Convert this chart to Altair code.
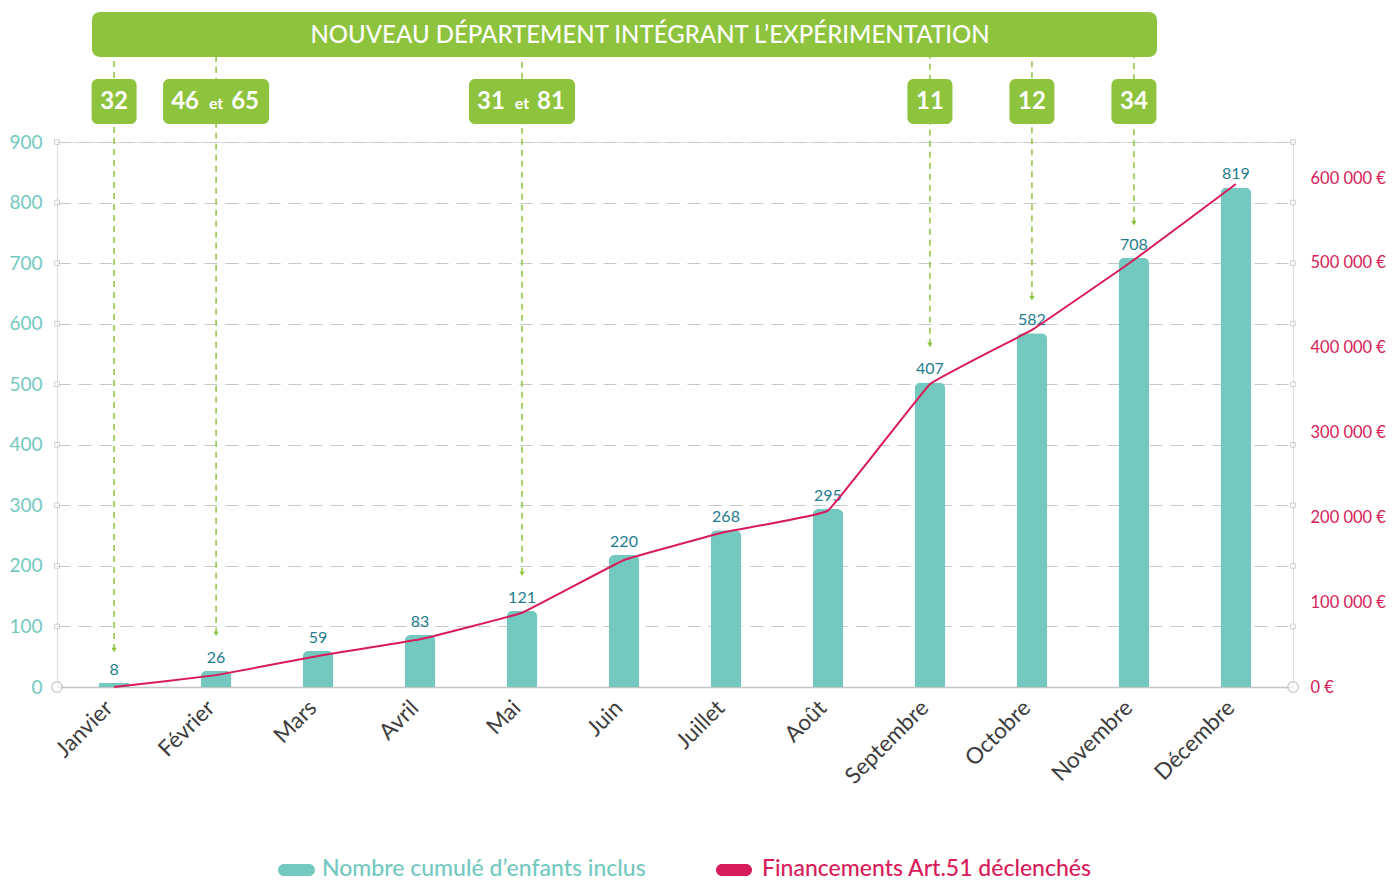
import altair as alt
import pandas as pd

# ---------------- data ----------------
months = ["Janvier", "Février", "Mars", "Avril", "Mai", "Juin", "Juillet",
          "Août", "Septembre", "Octobre", "Novembre", "Décembre"]
bar_heights = [7, 27, 60, 86, 126, 218, 259, 294, 503, 584, 709, 825]
bar_labels = ["8", "26", "59", "83", "121", "220", "268", "295", "407", "582", "708", "819"]
funding = [0, 14000, 36600, 56200, 87600, 149800, 183000, 208000, 357000, 421000, 503500, 593000]

ann_months = ["Janvier", "Février", "Mai", "Septembre", "Octobre", "Novembre"]
ann_tips = [61, 88, 187, 565, 642, 766]
ann_left = ["32", "46", "31", "11", "12", "34"]
ann_right = ["", "65", "81", "", "", ""]
ann_wide = [False, True, True, False, False, False]

left_ticks = [0, 100, 200, 300, 400, 500, 600, 700, 800, 900]
right_ticks = [0, 100000, 200000, 300000, 400000, 500000, 600000]

banner_text = "NOUVEAU DÉPARTEMENT INTÉGRANT L’EXPÉRIMENTATION"
legend_bar = "Nombre cumulé d’enfants inclus"
legend_line = "Financements Art.51 déclenchés"

# ---------------- styles ----------------
FONT = "Lato"
TEAL = "#73C9BF"
TEAL_TXT = "#1F7C8E"
CRIMSON = "#D81B5A"
GREEN = "#8DC33D"
GRID = "#c8c8c8"
W, H = 1236, 545

df = pd.DataFrame({"month": months, "h": bar_heights, "lab": bar_labels, "fund": funding})
ann = pd.DataFrame({"month": ann_months, "tip": ann_tips, "l": ann_left, "r": ann_right, "wide": ann_wide})
ticks_df = pd.DataFrame({"v": left_ticks[1:]})
one = pd.DataFrame({"k": [0]})

X = alt.X("month:N", sort=months, title=None,
          scale=alt.Scale(paddingInner=0.7, paddingOuter=0.41),
          axis=alt.Axis(labelAngle=-45, labelAlign="right", labelBaseline="middle",
                        labelPadding=17, labelOffset=-5, labelFontSize=22.5, labelColor="#3d3d3d",
                        labelFont=FONT, ticks=False, domain=True,
                        domainColor="#c4c4c4", domainWidth=1.5, grid=False))

left_axis = alt.Axis(values=left_ticks, grid=True, gridDash=[13, 8], gridColor=GRID,
                     gridWidth=1.2, ticks=False, domain=False, labelPadding=15,
                     labelFontSize=19, labelColor=TEAL, labelFont=FONT, title=None)


def YL(field):
    return alt.Y(field, type="quantitative", scale=alt.Scale(domain=[0, 900], nice=False),
                 axis=left_axis, title=None)


base = alt.Chart(df)

bars = base.mark_bar(color=TEAL, cornerRadiusTopLeft=6, cornerRadiusTopRight=6).encode(
    x=X, y=YL("h"))

labels = base.mark_text(font=FONT, fontSize=16, color=TEAL_TXT, baseline="bottom", dy=-5).encode(
    x=X, y=YL("h"), text="lab:N")

sq_left = alt.Chart(ticks_df).mark_point(shape="square", size=22, filled=True, fill="white",
                                         stroke="#bdbdbd", strokeWidth=1).encode(
    x=alt.value(0), y=YL("v"))
sq_right = alt.Chart(ticks_df).mark_point(shape="square", size=22, filled=True, fill="white",
                                          stroke="#bdbdbd", strokeWidth=1).encode(
    x=alt.value(W), y=YL("v"))

circles = alt.layer(
    alt.Chart(one).mark_point(shape="circle", size=110, filled=True, fill="white",
                              stroke="#bdbdbd", strokeWidth=1.5).encode(
        x=alt.value(0), y=alt.value(H)),
    alt.Chart(one).mark_point(shape="circle", size=110, filled=True, fill="white",
                              stroke="#bdbdbd", strokeWidth=1.5).encode(
        x=alt.value(W), y=alt.value(H)),
)

annb = alt.Chart(ann)
arrows = annb.mark_rule(color=GREEN, strokeDash=[6, 5], strokeWidth=1.5).encode(
    x=X, y=YL("tip"), y2=alt.value(-85))
heads = annb.mark_point(shape="triangle-down", filled=True, size=28, color=GREEN, opacity=1).encode(
    x=X, y=YL("tip"))

banner = alt.Chart(one).mark_rect(color=GREEN, cornerRadius=8).encode(
    x=alt.value(35), x2=alt.value(1100), y=alt.value(-130), y2=alt.value(-85))
banner_txt = alt.Chart(one).mark_text(text=banner_text, font=FONT, fontSize=24, fontWeight=500,
                                      color="white", align="center", baseline="middle").encode(
    x=alt.value(593), y=alt.value(-106))

box_small = annb.transform_filter("!datum.wide").mark_bar(size=45, color=GREEN, cornerRadius=6).encode(
    x=X, y=alt.value(-63), y2=alt.value(-18))
box_wide = annb.transform_filter("datum.wide").mark_bar(size=106, color=GREEN, cornerRadius=6).encode(
    x=X, y=alt.value(-63), y2=alt.value(-18))

txt_small = annb.transform_filter("!datum.wide").mark_text(
    font=FONT, fontSize=24, fontWeight="bold", color="white", baseline="middle").encode(
    x=X, y=alt.value(-40), text="l:N")
txt_wl = annb.transform_filter("datum.wide").mark_text(
    font=FONT, fontSize=24, fontWeight="bold", color="white", baseline="middle", dx=-31).encode(
    x=X, y=alt.value(-40), text="l:N")
txt_wr = annb.transform_filter("datum.wide").mark_text(
    font=FONT, fontSize=24, fontWeight="bold", color="white", baseline="middle", dx=29).encode(
    x=X, y=alt.value(-40), text="r:N")
txt_et = annb.transform_filter("datum.wide").mark_text(
    text="et", font=FONT, fontSize=16, fontWeight="bold", color="white", baseline="middle", dy=2).encode(
    x=X, y=alt.value(-40))

leg = alt.layer(
    alt.Chart(one).mark_rect(color=TEAL, cornerRadius=6).encode(
        x=alt.value(221), x2=alt.value(258), y=alt.value(722), y2=alt.value(734)),
    alt.Chart(one).mark_text(text=legend_bar, font=FONT, fontSize=23, fontWeight=500, color=TEAL,
                             align="left", baseline="middle").encode(x=alt.value(265), y=alt.value(727)),
    alt.Chart(one).mark_rect(color=CRIMSON, cornerRadius=6).encode(
        x=alt.value(659), x2=alt.value(695), y=alt.value(722), y2=alt.value(734)),
    alt.Chart(one).mark_text(text=legend_line, font=FONT, fontSize=23, fontWeight=500, color=CRIMSON,
                             align="left", baseline="middle").encode(x=alt.value(705), y=alt.value(727)),
)

left_layer = alt.layer(bars, sq_left, sq_right, circles, arrows, heads, labels, banner, banner_txt,
                       box_small, box_wide, txt_small, txt_wl, txt_wr, txt_et, leg)

line = base.mark_line(color=CRIMSON, strokeWidth=2, interpolate="cardinal", tension=0.8).encode(
    x=X,
    y=alt.Y("fund:Q", title=None, scale=alt.Scale(domain=[0, 642600], nice=False),
            axis=alt.Axis(orient="right", values=right_ticks, grid=False, ticks=False, domain=False,
                          labelPadding=17, labelFontSize=16.5, labelColor=CRIMSON, labelFont=FONT,
                          labelExpr="replace(format(datum.value, ','), ',', ' ') + ' €'")))

chart = alt.layer(left_layer, line).resolve_scale(y="independent").properties(
    width=W, height=H,
    autosize=alt.AutoSizeParams(type="none"),
    padding={"left": 49, "top": 134, "right": 96, "bottom": 193},
).configure_view(stroke=None).configure(background="white")

chart.save("out.html", embed_options={"renderer": "svg", "actions": False})
